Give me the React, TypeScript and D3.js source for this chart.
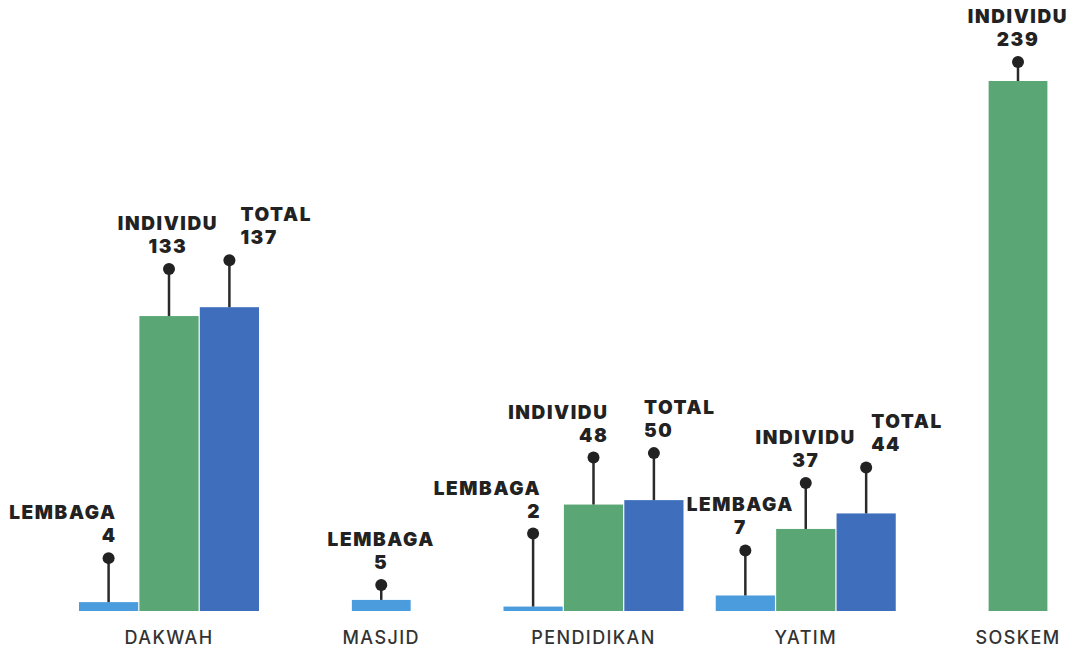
import React from "react";
import * as d3 from "d3";

const categories = ["DAKWAH", "MASJID", "PENDIDIKAN", "YATIM", "SOSKEM"];
const seriesNames = ["LEMBAGA", "INDIVIDU", "TOTAL"];
const lembaga = [4, 5, 2, 7, null];
const individu = [133, null, 48, 37, 239];
const total = [137, null, 50, 44, null];

const seriesValues: Record<string, (number | null)[]> = {
    LEMBAGA: lembaga,
    INDIVIDU: individu,
    TOTAL: total,
};

const colors: Record<string, string> = {
    LEMBAGA: "#4b9cdc",
    INDIVIDU: "#5ba675",
    TOTAL: "#3f6fbc",
};

// callout tweaks: stem length, text anchor, horizontal shift of the text
const callouts: Record<string, { lift: number; anchor: string; dx: number }> = {
    "DAKWAH|LEMBAGA": { lift: 44, anchor: "end", dx: 8 },
    "DAKWAH|INDIVIDU": { lift: 47, anchor: "middle", dx: -1 },
    "DAKWAH|TOTAL": { lift: 47, anchor: "start", dx: 11 },
    "MASJID|LEMBAGA": { lift: 15, anchor: "middle", dx: 0 },
    "PENDIDIKAN|LEMBAGA": { lift: 73, anchor: "end", dx: 8 },
    "PENDIDIKAN|INDIVIDU": { lift: 47, anchor: "end", dx: 15 },
    "PENDIDIKAN|TOTAL": { lift: 47, anchor: "start", dx: -10 },
    "YATIM|LEMBAGA": { lift: 45, anchor: "middle", dx: -5 },
    "YATIM|INDIVIDU": { lift: 46, anchor: "middle", dx: 0 },
    "YATIM|TOTAL": { lift: 46, anchor: "start", dx: 5 },
    "SOSKEM|INDIVIDU": { lift: 19, anchor: "middle", dx: 0 },
};

const App = () => {
    const width = 1074;
    const height = 650;
    const baseline = 611;
    const barW = 60;

    const allValues = seriesNames.flatMap((s) => seriesValues[s].filter((v) => v != null)) as number[];

    const x = d3.scalePoint().domain(categories).range([169, 1018]);
    const y = d3
        .scaleLinear()
        .domain([0, d3.max(allValues) as number])
        .range([baseline, 81]);

    const bars: any[] = [];
    categories.forEach((cat, i) => {
        const present = seriesNames.filter((s) => seriesValues[s][i] != null);
        const cx = x(cat) as number;
        const inner = d3
            .scaleBand()
            .domain(present)
            .range([cx - (present.length * barW) / 2, cx + (present.length * barW) / 2])
            .paddingInner(0.02)
            .paddingOuter(0);
        present.forEach((s) => {
            bars.push({
                cat,
                series: s,
                value: seriesValues[s][i] as number,
                x: inner(s) as number,
                w: inner.bandwidth(),
            });
        });
    });

    const labelFont = "Inter, 'Open Sans', sans-serif";

    return (
        <svg width={width} height={height} style={{ position: "absolute", left: 0, top: 0, background: "#fff" }}>
            {bars.map((b) => (
                <rect
                    key={`bar-${b.cat}-${b.series}`}
                    x={b.x}
                    y={y(b.value)}
                    width={b.w}
                    height={baseline - y(b.value)}
                    fill={colors[b.series]}
                />
            ))}
            {bars.map((b) => {
                const c = callouts[`${b.cat}|${b.series}`] || { lift: 46, anchor: "middle", dx: 0 };
                const cx = b.x + b.w / 2;
                const top = y(b.value);
                const dotY = top - c.lift;
                const tx = cx + c.dx;
                return (
                    <g key={`call-${b.cat}-${b.series}`}>
                        <line x1={cx} x2={cx} y1={top} y2={dotY} stroke="#2a2a2a" strokeWidth={2.5} />
                        <circle cx={cx} cy={dotY} r={6} fill="#222" />
                        <text
                            x={tx}
                            y={dotY - 39}
                            textAnchor={c.anchor as any}
                            fontFamily={labelFont}
                            fontWeight={900}
                            fontSize={19}
                            letterSpacing={1.6}
                            fill="#222"
                        >
                            {b.series}
                        </text>
                        <text
                            x={tx}
                            y={dotY - 16}
                            textAnchor={c.anchor as any}
                            fontFamily={labelFont}
                            fontWeight={900}
                            fontSize={19}
                            letterSpacing={1.6}
                            fill="#222"
                        >
                            {b.value}
                        </text>
                    </g>
                );
            })}
            {categories.map((cat) => (
                <text
                    key={`cat-${cat}`}
                    x={x(cat) as number}
                    y={644}
                    textAnchor="middle"
                    fontFamily={labelFont}
                    fontWeight={500}
                    fontSize={18}
                    letterSpacing={1.4}
                    fill="#333"
                >
                    {cat}
                </text>
            ))}
        </svg>
    );
};

export default App;
